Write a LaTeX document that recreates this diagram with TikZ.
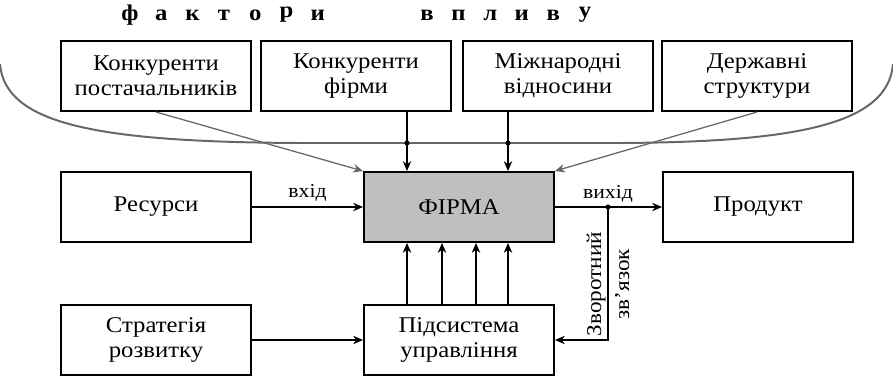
\documentclass[tikz,border=0pt]{standalone}
\usepackage{fontspec}
\setmainfont{Liberation Serif}[FakeStretch=1.1]
\usetikzlibrary{arrows.meta}

\begin{document}
\begin{tikzpicture}[x=0.025cm, y=-0.025cm,
  blok/.style={draw, line width=1.4pt, minimum width=4.75cm, minimum height=1.75cm, inner sep=2pt, align=center, font=\fontsize{16}{18}\selectfont},
  strilka/.style={-{Stealth[length=7pt,width=6pt]}, line width=0.9pt},
  liniya/.style={line width=1.4pt, black!60}]
\useasboundingbox (0,0) rectangle (893,376);
\foreach \l [count=\i] in {ф,а,к,т,о,р,и}
  \node[font=\bfseries\fontsize{16}{16}\selectfont] (fa\i) at (130+31.3*\i-31.3, 15) {\l};
\foreach \l [count=\i] in {в,п,л,и,в,у}
  \node[font=\bfseries\fontsize{16}{16}\selectfont] (vp\i) at (427+31.6*\i-31.6, 15) {\l};
\node[blok] (kp) at (156,76) {Конкуренти\\постачальників};
\node[blok] (kf) at (356,76) {Конкуренти\\фірми};
\node[blok] (mv) at (558,76) {Міжнародні\\відносини};
\node[blok] (ds) at (757,76) {Державні\\структури};
\node[blok] (res) at (156,207) {Ресурси};
\node[blok, fill=black!25] (firm) at (459,207) {ФІРМА};
\node[blok] (prod) at (758,207) {Продукт};
\node[blok] (strat) at (156,340) {Стратегія\\розвитку};
\node[blok] (upr) at (459,340) {Підсистема\\управління};
\coordinate (c1) at (407,143);
\coordinate (c2) at (442,143);
\coordinate (c3) at (476,143);
\coordinate (c4) at (508,143);
\coordinate (vz) at (608,207);
\draw[liniya] (0,64) .. controls (5,125) and (100,142) .. (300,143) -- (620,143) .. controls (795,142) and (888,125) .. (893,64);
\draw[liniya, strilka] (kp.south) -- (firm.north west);
\draw[liniya, strilka] (ds.south) -- (firm.north east);
\draw[strilka] (kf.south -| c1) -- (firm.north -| c1);
\draw[strilka] (mv.south -| c4) -- (firm.north -| c4);
\fill (c1) circle (1.8pt);
\fill (c4) circle (1.8pt);
\draw[strilka] (res) -- node[above, font=\fontsize{14}{14}\selectfont] {вхід} (firm);
\draw[strilka] (firm) -- (prod);
\node[above, font=\fontsize{14}{14}\selectfont] (vyh) at (vz) {вихід};
\fill (vz) circle (1.8pt);
\draw[strilka] (vz) |- node[pos=0.29, rotate=90, align=center, font=\fontsize{15}{20}\selectfont] {Зворотний\\зв'язок} (upr.east);
\draw[strilka] (strat) -- (upr);
\foreach \c in {c1,c2,c3,c4}
  \draw[strilka] (upr.north -| \c) -- (firm.south -| \c);
\end{tikzpicture}
\end{document}
